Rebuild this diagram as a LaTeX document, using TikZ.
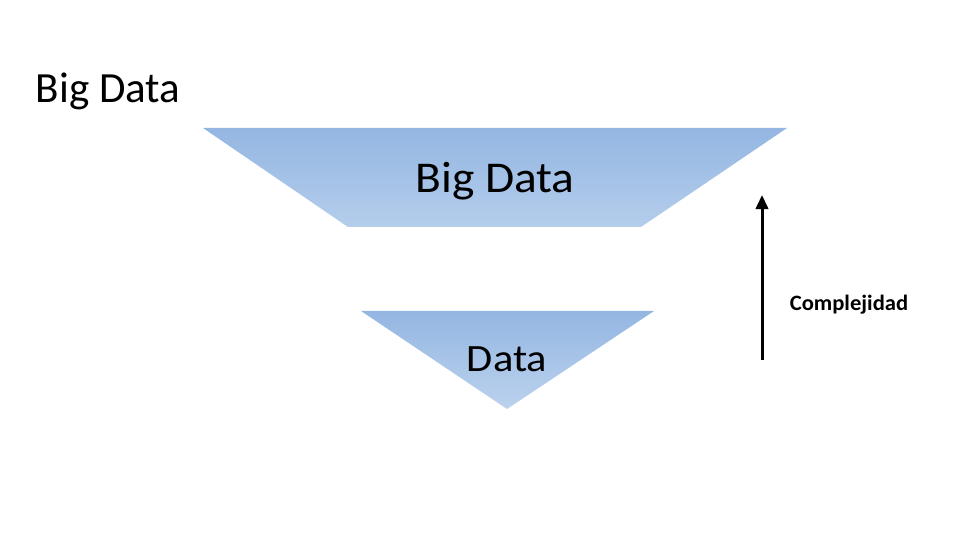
\documentclass[tikz,border=0pt]{standalone}
\usepackage{fontspec}
\setmainfont{Carlito}
\usepackage{tikz}
\usetikzlibrary{arrows.meta,positioning}
\definecolor{funneltop}{HTML}{94B6E2}
\definecolor{funnelbot}{HTML}{B4CDEB}

\begin{document}
\begin{tikzpicture}[x=0.02cm,y=-0.02cm,every node/.style={inner sep=0pt,anchor=base},
      layer/.style={top color=funneltop,bottom color=funnelbot,draw=none},
      label/.style={font=\fontsize{24.5}{28}\selectfont}]
    \useasboundingbox (0,0) rectangle (960,540);
    \node[label] (title) at (108,103) {Big Data};
    \shade[layer] (203,128) -- (787,128) -- (641,227) -- (348,227) -- cycle;
    \node[label,font=\fontsize{25}{28}\selectfont] (bigdata) at (495,193) {\scalebox{1.08}[1]{Big Data}};
    \shade[layer,bottom color=funnelbot!90!white] (361,311) -- (654,311) -- (507,409) -- cycle;
    \node[font=\fontsize{22}{25}\selectfont] (data) at (507,372) {\scalebox{1.1}[1]{Data}};
    \coordinate (low) at (762,360);
    \coordinate (high) at (762,195);
    \draw[line width=1.7pt,-{Triangle[width=7pt,length=8pt]}] (low) -- (high);
    \node[font=\bfseries\fontsize{12.5}{15}\selectfont] (compl) at (849,311) {\scalebox{1.03}[1]{Complejidad}};
  \end{tikzpicture}
\end{document}
